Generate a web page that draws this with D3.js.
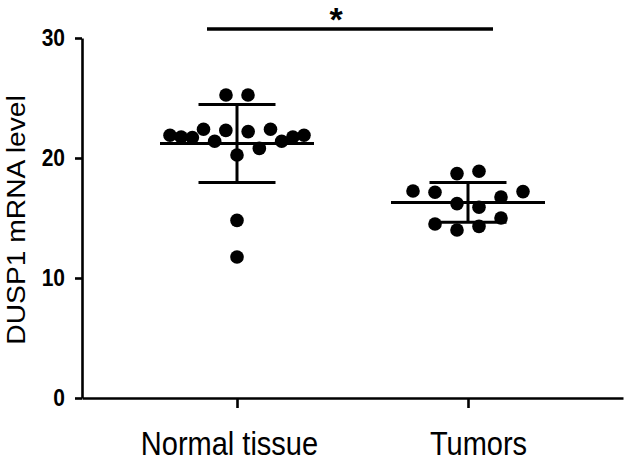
<!DOCTYPE html>
<html>
<head>
<meta charset="utf-8">
<script src="https://cdn.jsdelivr.net/npm/d3@7/dist/d3.min.js"></script>
<style>
  body { margin: 0; background: #fff; }
  svg { display: block; }
  text { font-family: "Liberation Sans", Arial, sans-serif; fill: #000; }
</style>
</head>
<body>
<svg id="chart" width="630" height="461"></svg>
<script>
// ---- data ----
const categories = ["Normal tissue", "Tumors"];
const normalValues = [25.25, 25.25, 20.25, 22.3, 22.2, 21.4, 20.8, 22.4, 22.4, 21.7, 21.4, 21.75, 21.75, 21.9, 21.9, 14.8, 11.75];
const tumorValues = [18.7, 18.9, 16.2, 15.9, 17.15, 16.75, 17.25, 17.2, 14.0, 14.3, 14.5, 15.0];
const groupMeans = [21.2, 16.3];
const groupSDs = [3.25, 1.65];
const yTicks = [0, 10, 20, 30];
const yLabel = "DUSP1 mRNA level";
const sigLabel = "*";

// ---- layout ----
const svg = d3.select("#chart");
const x = d3.scalePoint().domain(categories).range([82, 623]).padding(0.671);
const y = d3.scaleLinear().domain([0, 30]).range([398, 38]);
const r = 6.8;
const textStretch = 1.13;
const labelShift = [-8, 10];

// axes
const yAxis = d3.axisLeft(y).tickValues(yTicks).tickSize(7).tickPadding(10).tickSizeOuter(0);
const gy = svg.append("g").attr("transform", "translate(82,0)").call(yAxis);
gy.select(".domain").attr("stroke", "#000").attr("stroke-width", 2.6);
gy.selectAll(".tick line").attr("stroke", "#000").attr("stroke-width", 2.6);
gy.selectAll(".tick text").style("font-size", "21px").style("font-weight", "bold")
  .attr("font-family", "Liberation Sans, Arial, sans-serif")
  .attr("transform", `scale(1,${textStretch})`);

const xAxis = d3.axisBottom(x).tickSize(10).tickSizeOuter(0).tickFormat("");
const gx = svg.append("g").attr("transform", "translate(0,398)").call(xAxis);
gx.select(".domain").attr("stroke", "#000").attr("stroke-width", 2.6);
gx.selectAll(".tick line").attr("stroke", "#000").attr("stroke-width", 2.6);
gx.selectAll(".tick").append("text")
  .attr("text-anchor", "middle")
  .attr("transform", (d, i) => `translate(${labelShift[i]},57) scale(1,${textStretch})`)
  .attr("font-family", "Liberation Sans, Arial, sans-serif")
  .style("font-size", "29px")
  .attr("fill", "#000")
  .text(d => d);

// y label
svg.append("text")
  .attr("transform", `translate(25,220) rotate(-90) scale(${textStretch},1)`)
  .attr("text-anchor", "middle")
  .style("font-size", "25px")
  .text(yLabel);

// row-based scatter layout (values within ~0.75 of each other share a row)
function rowLayout(values, cx) {
  const idx = values.map((v, i) => i).sort((a, b) => values[a] - values[b]);
  const rowOf = new Array(values.length);
  let row = 0;
  idx.forEach((i, k) => {
    if (k > 0 && values[i] - values[idx[k - 1]] > 0.75) row++;
    rowOf[i] = row;
  });
  const rows = d3.group(values.map((v, i) => ({ v, i, row: rowOf[i] })), d => d.row);
  const pts = [];
  rows.forEach(members => {
    members.sort((a, b) => a.i - b.i);
    const n = members.length;
    const spacing = n > 1 ? Math.min(22, 134 / (n - 1)) : 0;
    members.forEach((m, k) => {
      let slot;
      if (n % 2 === 1) {
        slot = k === 0 ? 0 : (k % 2 === 1 ? -Math.ceil(k / 2) : Math.ceil(k / 2));
      } else {
        const j = Math.floor(k / 2) + 0.5;
        slot = k % 2 === 0 ? -j : j;
      }
      pts.push({ x: cx + slot * spacing, y: y(m.v), v: m.v });
    });
  });
  return pts;
}

const groups = [normalValues, tumorValues];
groups.forEach((vals, gi) => {
  const cx = x(categories[gi]);
  const pts = rowLayout(vals, cx);
  const m = groupMeans[gi], sd = groupSDs[gi];
  const g = svg.append("g");
  g.append("line").attr("x1", cx).attr("x2", cx).attr("y1", y(m + sd)).attr("y2", y(m - sd))
    .attr("stroke", "#000").attr("stroke-width", 3);
  [m + sd, m - sd].forEach(v => {
    g.append("line").attr("x1", cx - 38.5).attr("x2", cx + 38.5).attr("y1", y(v)).attr("y2", y(v))
      .attr("stroke", "#000").attr("stroke-width", 3);
  });
  g.selectAll("circle").data(pts).join("circle")
    .attr("cx", d => d.x).attr("cy", d => d.y).attr("r", r).attr("fill", "#000");
  g.append("line").attr("x1", cx - 77).attr("x2", cx + 77).attr("y1", y(m)).attr("y2", y(m))
    .attr("stroke", "#000").attr("stroke-width", 3);
});

// significance
const sx1 = x(categories[0]) - 30, sx2 = x(categories[1]) + 25;
svg.append("line").attr("x1", sx1).attr("x2", sx2).attr("y1", 29).attr("y2", 29)
  .attr("stroke", "#000").attr("stroke-width", 3.5);
svg.append("text").attr("x", (sx1 + sx2) / 2 - 14).attr("y", 31)
  .attr("text-anchor", "middle").style("font-size", "34px").style("font-weight", "bold")
  .text(sigLabel);
</script>
</body>
</html>
